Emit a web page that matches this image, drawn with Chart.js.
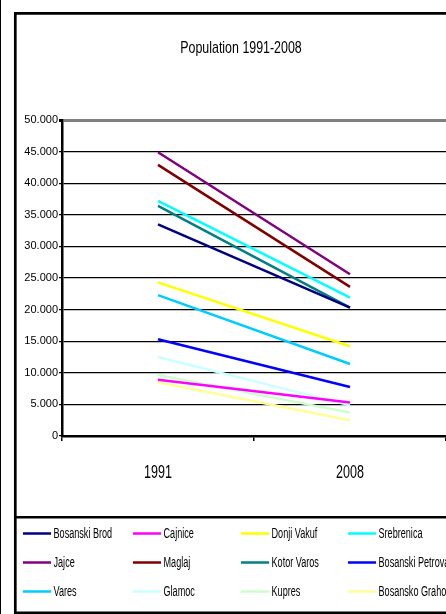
<!DOCTYPE html>
<html>
<head>
<meta charset="utf-8">
<script src="https://cdn.jsdelivr.net/npm/chart.js@4/dist/chart.umd.min.js"></script>
<style>
  html, body { margin: 0; padding: 0; background: #fff; }
  canvas { display: block; }
</style>
</head>
<body>
<canvas id="c" width="446" height="614"></canvas>
<script>
// ---- data ----
const categories = ['1991', '2008'];
const chartTitle = 'Population 1991-2008';
const yTickLabels = ['0', '5.000', '10.000', '15.000', '20.000', '25.000', '30.000', '35.000', '40.000', '45.000', '50.000'];

const seriesNames = [
  'Bosanski Brod', 'Cajnice', 'Donji Vakuf', 'Srebrenica',
  'Jajce', 'Maglaj', 'Kotor Varos', 'Bosanski Petrovac',
  'Vares', 'Glamoc', 'Kupres', 'Bosansko Grahovo'
];
const bosanskiBrod     = [33500, 20300];
const cajnice          = [8900, 5300];
const donjiVakuf       = [24300, 14200];
const srebrenica       = [37200, 21900];
const jajce            = [44900, 25600];
const maglaj           = [42900, 23600];
const kotorVaros       = [36400, 20300];
const bosanskiPetrovac = [15300, 7750];
const vares            = [22300, 11400];
const glamoc           = [12500, 4850];
const kupres           = [9650, 3700];
const bosanskoGrahovo  = [8500, 2500];

const seriesValues = [bosanskiBrod, cajnice, donjiVakuf, srebrenica, jajce, maglaj,
  kotorVaros, bosanskiPetrovac, vares, glamoc, kupres, bosanskoGrahovo];
const seriesColors = ['#000080', '#FF00FF', '#FFFF00', '#00FFFF', '#800080', '#800000',
  '#008080', '#0000FF', '#00CCFF', '#CCFFFF', '#CCFFCC', '#FFFF99'];

const FONT = "'Liberation Sans', Arial, sans-serif";

function drawScaledText(ctx, text, x, y, size, sx, align) {
  ctx.save();
  ctx.font = size + 'px ' + FONT;
  ctx.fillStyle = '#000';
  ctx.textBaseline = 'middle';
  ctx.textAlign = align;
  ctx.translate(x, y);
  ctx.scale(sx, 1);
  ctx.fillText(text, 0, 0);
  ctx.restore();
}

const framePlugin = {
  id: 'frame',
  beforeDraw(chart) {
    const ctx = chart.ctx;
    ctx.save();
    ctx.fillStyle = '#fff';
    ctx.fillRect(0, 0, chart.width, chart.height);
    ctx.restore();
  },
  afterDraw(chart) {
    const ctx = chart.ctx;
    ctx.save();
    ctx.strokeStyle = '#000';
    // far-left thin line
    ctx.lineWidth = 1;
    ctx.beginPath(); ctx.moveTo(0.5, 0); ctx.lineTo(0.5, chart.height); ctx.stroke();
    // chart frame
    ctx.lineWidth = 2.7;
    ctx.beginPath();
    ctx.moveTo(chart.width + 10, 13.3);
    ctx.lineTo(15.3, 13.3);
    ctx.lineTo(15.3, 612.8);
    ctx.lineTo(chart.width + 10, 612.8);
    ctx.stroke();
    // legend separator
    ctx.lineWidth = 2.5;
    ctx.beginPath(); ctx.moveTo(15, 517.3); ctx.lineTo(chart.width + 10, 517.3); ctx.stroke();
    ctx.restore();

    // title
    drawScaledText(ctx, chartTitle, 241, 48.5, 17, 0.73, 'center');

    // x category labels (positions from the category scale)
    const xs = chart.scales.x;
    categories.forEach((lab, i) => {
      drawScaledText(ctx, lab, xs.getPixelForValue(i), 473, 19, 0.66, 'center');
    });

    // legend grid
    const colX = [23, 133, 241, 348];
    const rowY = [533.5, 562.5, 591.5];
    chart.data.datasets.forEach((ds, i) => {
      const cx = colX[i % 4];
      const cy = rowY[Math.floor(i / 4)];
      ctx.save();
      ctx.strokeStyle = ds.borderColor;
      ctx.lineWidth = 2.5;
      ctx.beginPath(); ctx.moveTo(cx, cy); ctx.lineTo(cx + 28, cy); ctx.stroke();
      ctx.restore();
      drawScaledText(ctx, ds.label, cx + 30.5, cy + 0.5, 14, 0.65, 'left');
    });
  }
};

const datasets = seriesNames.map((name, i) => ({
  label: name,
  data: seriesValues[i],
  borderColor: seriesColors[i],
  backgroundColor: seriesColors[i],
  borderWidth: 2.5,
  pointRadius: 0,
  pointHoverRadius: 0,
  tension: 0,
  fill: false
}));

new Chart(document.getElementById('c'), {
  type: 'line',
  data: { labels: categories, datasets: datasets },
  plugins: [framePlugin],
  options: {
    responsive: false,
    devicePixelRatio: 1,
    animation: false,
    events: [],
    layout: { padding: { top: 120, left: 0, right: 0, bottom: 98 } },
    plugins: {
      legend: { display: false },
      title: { display: false },
      tooltip: { enabled: false }
    },
    scales: {
      x: {
        type: 'category',
        offset: true,
        grid: {
          display: true,
          offset: true,
          drawOnChartArea: false,
          drawTicks: true,
          tickLength: 5,
          color: '#000',
          lineWidth: 1.5
        },
        border: { display: true, color: '#000', width: 2.5 },
        ticks: { display: false },
        afterFit(scale) { scale.height = 80; scale.paddingLeft = 0; scale.paddingRight = 0; }
      },
      y: {
        min: 0,
        max: 50000,
        ticks: {
          stepSize: 5000,
          padding: 1,
          color: '#000',
          font: { family: FONT, size: 11 },
          callback: (v, i) => yTickLabels[i]
        },
        grid: {
          drawTicks: true,
          tickLength: 3,
          color: (c) => (c.tick && c.tick.value === 50000) ? '#808080' : '#000',
          lineWidth: (c) => (c.tick && c.tick.value === 50000) ? 3 : 1.3,
          tickColor: '#000'
        },
        border: { display: true, color: '#000', width: 2.5 },
        afterFit(scale) { scale.width = 62; scale.paddingTop = 0; scale.paddingBottom = 0; }
      }
    }
  }
});
</script>
</body>
</html>
